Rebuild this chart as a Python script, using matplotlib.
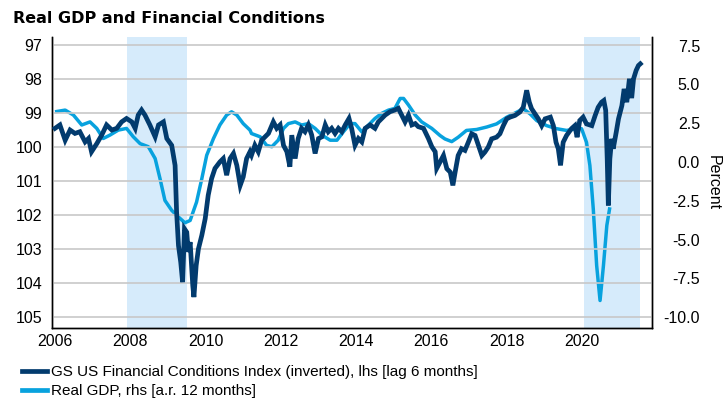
import numpy as np
import matplotlib
matplotlib.use("Agg")
import matplotlib.pyplot as plt
from matplotlib.lines import Line2D

plt.rcParams['font.family'] = ['Liberation Sans', 'DejaVu Sans']
plt.rcParams['axes.unicode_minus'] = False

DARK = "#023b6e"
LIGHT = "#08a2de"
SHADE = "#d6ebfb"

# GS US FCI (inverted, lhs, lagged 6 months): decimal year, index level
fci_year = [
    2006.00, 2006.13, 2006.27, 2006.40, 2006.53, 2006.66, 2006.80, 2006.89, 2006.97, 2007.11,
    2007.24, 2007.37, 2007.51, 2007.64, 2007.77, 2007.90, 2008.04, 2008.13, 2008.21, 2008.30,
    2008.39, 2008.52, 2008.66, 2008.75, 2008.88, 2008.97, 2009.10, 2009.19, 2009.23, 2009.28,
    2009.34, 2009.39, 2009.44, 2009.50, 2009.54, 2009.59, 2009.66, 2009.69, 2009.75, 2009.81,
    2009.90, 2009.99, 2010.07, 2010.16, 2010.25, 2010.38, 2010.47, 2010.56, 2010.65, 2010.74,
    2010.83, 2010.92, 2011.00, 2011.09, 2011.18,
    2011.22, 2011.31, 2011.40, 2011.49, 2011.58, 2011.67, 2011.80, 2011.89, 2011.98, 2012.07,
    2012.16, 2012.24, 2012.29, 2012.38, 2012.46, 2012.55, 2012.64, 2012.73, 2012.82, 2012.91,
    2013.00, 2013.09, 2013.18, 2013.26, 2013.35, 2013.44, 2013.53, 2013.62, 2013.71, 2013.81,
    2013.88, 2013.97, 2014.06, 2014.15, 2014.24, 2014.37, 2014.50, 2014.59, 2014.68, 2014.77,
    2014.90, 2015.03, 2015.12, 2015.21, 2015.30, 2015.39, 2015.48, 2015.57, 2015.65, 2015.79,
    2015.92, 2016.01, 2016.10, 2016.14,
    2016.32, 2016.41, 2016.50, 2016.57, 2016.63, 2016.71, 2016.80, 2016.89, 2016.98, 2017.07,
    2017.16, 2017.25, 2017.34, 2017.42, 2017.51, 2017.60, 2017.73, 2017.82, 2017.91, 2018.00,
    2018.09, 2018.22, 2018.35, 2018.44, 2018.53, 2018.60, 2018.66, 2018.75, 2018.84, 2018.93,
    2019.02, 2019.16, 2019.24, 2019.31, 2019.37, 2019.43, 2019.50, 2019.59, 2019.72, 2019.81,
    2019.87, 2019.94, 2020.03, 2020.12, 2020.26, 2020.35, 2020.43, 2020.52, 2020.58, 2020.63,
    2020.67, 2020.70, 2020.74, 2020.79, 2020.83, 2020.91, 2020.97, 2021.06, 2021.12, 2021.19,
    2021.26, 2021.32, 2021.37, 2021.44, 2021.50, 2021.55,
]
fci_val = [
    99.44, 99.34, 99.79, 99.49, 99.59, 99.54, 99.84, 99.74, 100.13, 99.89,
    99.64, 99.34, 99.49, 99.44, 99.25, 99.15, 99.25, 99.44, 99.05, 98.90,
    99.05, 99.34, 99.69, 99.34, 99.25, 99.74, 99.94, 100.53, 101.90, 102.89,
    103.38, 103.97, 102.40, 102.50, 103.08, 102.79, 104.07, 104.41, 103.48, 102.99,
    102.59, 102.10, 101.41, 100.92, 100.62, 100.43, 100.33, 100.82, 100.33, 100.18,
    100.53, 101.12, 100.87, 100.33, 100.13,
    100.23, 99.94, 100.13, 99.79, 99.69, 99.59, 99.25, 99.44, 99.34, 99.94,
    100.13, 100.57, 99.64, 100.33, 99.74, 99.44, 99.54, 99.34, 99.64, 100.18,
    99.74, 99.69, 99.34, 99.54, 99.44, 99.59, 99.44, 99.54, 99.34, 99.15,
    99.44, 99.94, 99.74, 99.84, 99.44, 99.34, 99.44, 99.25, 99.15, 99.05,
    98.95, 98.90, 98.85, 99.05, 99.25, 99.05, 99.34, 99.30, 99.39, 99.44,
    99.74, 99.98, 100.13, 100.62,
    100.24, 100.63, 100.73, 101.12, 100.73, 100.24, 100.04, 100.09, 99.85, 99.60,
    99.65, 99.95, 100.24, 100.14, 99.99, 99.75, 99.70, 99.60, 99.36, 99.16,
    99.11, 99.06, 98.96, 98.82, 98.32, 98.67, 98.86, 99.01, 99.16, 99.36,
    99.16, 99.11, 99.36, 99.85, 100.04, 100.53, 99.85, 99.65, 99.45, 99.36,
    99.70, 99.21, 99.11, 99.31, 99.36, 99.06, 98.82, 98.67, 98.62, 98.91,
    100.34, 101.71, 100.34, 99.75, 100.04, 99.55, 99.16, 98.77, 98.28, 98.67,
    97.98, 98.55, 97.98, 97.73, 97.59, 97.54,
]

# Real GDP growth (rhs, annualised over 12 months), percent
gdp_year = [
    2006.00, 2006.27, 2006.49, 2006.71, 2006.93, 2007.11, 2007.28, 2007.46, 2007.68, 2007.90,
    2008.08, 2008.26, 2008.48, 2008.66, 2008.79, 2008.92, 2009.10, 2009.28, 2009.45, 2009.59,
    2009.76, 2009.90, 2010.03, 2010.21, 2010.38, 2010.56, 2010.69, 2010.83, 2011.00, 2011.18,
    2011.22, 2011.45, 2011.62, 2011.76, 2011.93, 2012.07, 2012.20, 2012.38, 2012.55, 2012.73,
    2012.91, 2013.09, 2013.31, 2013.49, 2013.66, 2013.84, 2013.97, 2014.15, 2014.33, 2014.50,
    2014.68, 2014.86, 2015.03, 2015.17, 2015.26, 2015.39, 2015.57, 2015.74, 2016.01,
    2016.23, 2016.36, 2016.54, 2016.71, 2016.93, 2017.20, 2017.47, 2017.73, 2018.00, 2018.27,
    2018.44, 2018.62, 2018.80, 2019.06, 2019.33, 2019.59, 2019.86, 2019.99, 2020.12, 2020.21,
    2020.30, 2020.39, 2020.48, 2020.57, 2020.66, 2020.74,
]
gdp_val = [
    3.23, 3.34, 3.02, 2.38, 2.58, 2.16, 1.51, 1.73, 2.05, 2.16,
    1.62, 1.18, 0.98, 0.22, -1.08, -2.48, -3.12, -3.55, -3.92, -3.77,
    -2.59, -1.08, 0.43, 1.51, 2.38, 3.02, 3.23, 3.02, 2.47, 2.05,
    1.83, 1.62, 1.07, 0.98, 1.40, 2.16, 2.47, 2.58, 2.38, 2.47,
    2.16, 1.73, 1.40, 1.40, 1.94, 2.47, 2.47, 1.94, 2.38, 2.80,
    3.13, 3.34, 3.45, 4.09, 4.09, 3.67, 3.02, 2.58, 2.16,
    1.70, 1.48, 1.31, 1.59, 2.03, 2.09, 2.25, 2.45, 2.88, 3.21,
    3.43, 3.10, 2.66, 2.34, 2.14, 2.03, 2.14, 2.14, 1.26, -0.23,
    -3.03, -6.68, -8.93, -6.68, -4.09, -2.92,
]

recessions = [(2007.92, 2009.50), (2020.05, 2021.54)]
x_ticks = [2006, 2008, 2010, 2012, 2014, 2016, 2018, 2020]
lhs_ticks = [97, 98, 99, 100, 101, 102, 103, 104, 105]
rhs_ticks = [-10.0, -7.5, -5.0, -2.5, 0.0, 2.5, 5.0, 7.5]

fig = plt.figure(figsize=(7.27, 4.0), dpi=100)
ax = fig.add_axes([52 / 727, 1 - 328 / 400, 600 / 727, 291 / 400])
ax2 = ax.twinx()
ax.set_zorder(ax2.get_zorder() + 1)
ax.patch.set_visible(False)

for start, end in recessions:
    ax2.axvspan(start, end, color=SHADE, lw=0, zorder=0)

ax2.plot(gdp_year, gdp_val, color=LIGHT, lw=2.5, solid_capstyle="butt", zorder=2)
ax.plot(fci_year, fci_val, color=DARK, lw=3.4, solid_joinstyle="miter", zorder=3)

ax.set_xlim(2005.92, 2021.86)
ax.set_ylim(105.32, 96.75)
ax2.set_ylim(-10.7, 8.05)

ax.set_xticks(x_ticks)
ax.set_xticklabels([str(t) for t in x_ticks])
ax.set_yticks(lhs_ticks)
ax.set_yticklabels([str(t) for t in lhs_ticks])
ax2.set_yticks(rhs_ticks)
ax2.set_yticklabels([f"{t:.1f}" for t in rhs_ticks])

ax.grid(axis="y", color="#c8c8c8", lw=1.2)
ax.set_axisbelow(True)
ax.tick_params(axis="both", length=0, labelsize=11.5)
ax.tick_params(axis="y", pad=7)
ax.tick_params(axis="x", pad=4)
ax2.tick_params(axis="y", length=0, labelsize=11.5, pad=34.5)
for lab in ax2.get_yticklabels():
    lab.set_horizontalalignment("right")

for a in (ax, ax2):
    a.spines["top"].set_visible(False)
    for s in ("left", "right", "bottom"):
        a.spines[s].set_color("black")
        a.spines[s].set_linewidth(1.0)

fig.text(713 / 727, 1 - 183 / 400, "Percent", rotation=270,
         ha="center", va="center", fontsize=11.5)
fig.text(13 / 727, 1 - 23 / 400, "Real GDP and Financial Conditions",
         fontsize=11.5, fontweight="bold", family="DejaVu Sans",
         va="baseline", ha="left")

handles = [Line2D([], [], color=DARK, lw=3.4), Line2D([], [], color=LIGHT, lw=3.4)]
labels = ["GS US Financial Conditions Index (inverted), lhs [lag 6 months]",
          "Real GDP, rhs [a.r. 12 months]"]
fig.legend(handles, labels, loc="lower left", bbox_to_anchor=(22 / 727, 0.005),
           frameon=False, fontsize=11, handlelength=1.64, handletextpad=0.26,
           labelspacing=0.3, borderpad=0, borderaxespad=0)

fig.savefig("out.png", dpi=100)
